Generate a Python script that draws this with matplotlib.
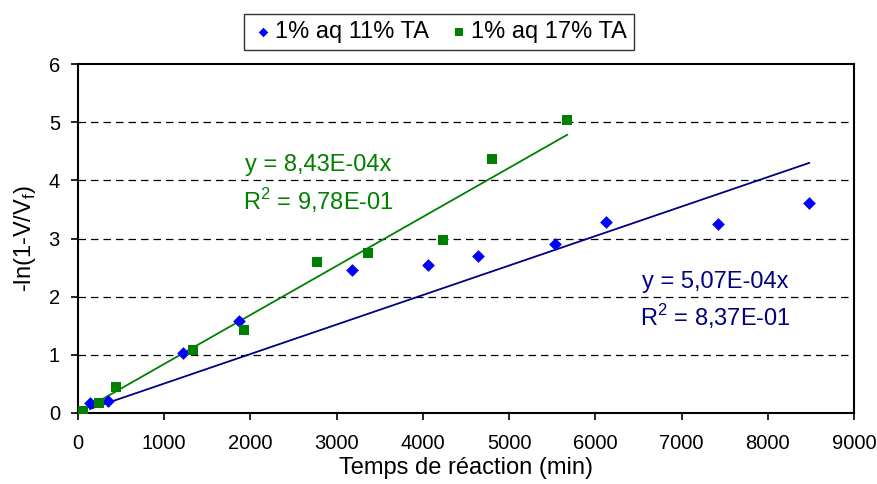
import numpy as np
import matplotlib
matplotlib.use("Agg")
import matplotlib.pyplot as plt

# --- data ---
t_11 = [139, 348, 1218, 1868, 3179, 4060, 4640, 5534, 6125, 7425, 8480]
y_11 = [0.17, 0.21, 1.03, 1.58, 2.46, 2.54, 2.70, 2.90, 3.28, 3.25, 3.61]
t_17 = [58, 244, 441, 1334, 1926, 2773, 3364, 4234, 4803, 5673]
y_17 = [0.04, 0.17, 0.45, 1.08, 1.43, 2.60, 2.75, 2.97, 4.36, 5.03]
slope_11 = 5.07e-4
slope_17 = 8.43e-4
eq_11 = ["y = 5,07E-04x", "R$^2$ = 8,37E-01"]
eq_17 = ["y = 8,43E-04x", "R$^2$ = 9,78E-01"]
labels = ["1% aq 11% TA", "1% aq 17% TA"]

plt.rcParams['font.family'] = ['Liberation Sans', 'DejaVu Sans']
plt.rcParams['mathtext.fontset'] = 'custom'
plt.rcParams['mathtext.rm'] = 'Liberation Sans'

fig = plt.figure(figsize=(8.78, 4.84), dpi=100)
ax = fig.add_axes([78 / 878, 1 - 413 / 484, (854 - 78) / 878, (413 - 64) / 484])

blue_pt, blue_ln = '#0000FF', '#000080'
green = '#008000'

ax.scatter(t_11, y_11, marker='D', s=42, color=blue_pt, zorder=3, label=labels[0], linewidths=0)
ax.scatter(t_17, y_17, marker='s', s=55, color=green, zorder=3, label=labels[1], linewidths=0)

# linear trend lines through origin
x11 = np.array([min(t_11), max(t_11)])
x17 = np.array([min(t_17), max(t_17)])
ax.plot(x11, slope_11 * x11, color=blue_ln, lw=1.3, zorder=2)
ax.plot(x17, slope_17 * x17, color=green, lw=1.3, zorder=2)

ax.text(2784, 4.26, eq_17[0], color=green, fontsize=17, ha='center', va='center')
ax.text(2784, 3.66, eq_17[1], color=green, fontsize=17, ha='center', va='center')
ax.text(7390, 2.25, eq_11[0], color=blue_ln, fontsize=17, ha='center', va='center')
ax.text(7390, 1.65, eq_11[1], color=blue_ln, fontsize=17, ha='center', va='center')

ax.set_xlim(0, 9000)
ax.set_ylim(0, 6)
ax.set_xticks(range(0, 9001, 1000))
ax.set_yticks(range(0, 7))
ax.tick_params(direction='out', length=5, width=1.2, labelsize=14.5, colors='black')
ax.tick_params(axis='x', pad=10)
ax.tick_params(axis='y', pad=8)
for y in range(1, 6):
    ax.axhline(y, color='black', lw=0.9, ls=(0, (6, 4)), zorder=1)
for sp in ax.spines.values():
    sp.set_linewidth(1.5)
    sp.set_color('black')

ax.set_xlabel("Temps de réaction (min)", fontsize=17, labelpad=3)
ax.set_ylabel("-ln(1-V/V$_\\mathregular{f}$)", fontsize=17, labelpad=8)

leg = fig.legend(loc='center', bbox_to_anchor=(439 / 878, 1 - 32 / 484), ncol=2, fontsize=17,
                 frameon=True, fancybox=False, edgecolor='black', handletextpad=0.0,
                 columnspacing=0.8, borderpad=0.3, handlelength=1.0, markerscale=0.75)
leg.get_frame().set_linewidth(1.0)

fig.savefig("out.png", dpi=100)
